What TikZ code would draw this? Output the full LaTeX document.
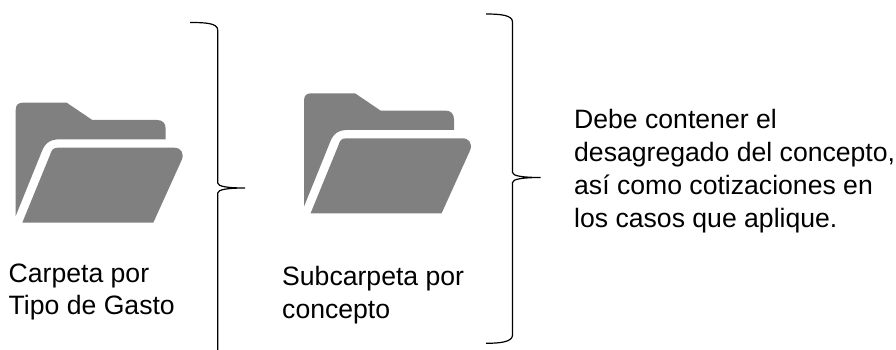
\documentclass[tikz,border=0pt]{standalone}
\usepackage{fontspec}
\setmainfont{Liberation Sans}
\tikzset{
  lbl/.style={anchor=west,align=left,font=\fontsize{26.6}{32.8}\selectfont,inner sep=0pt,text=black},
  brace/.style={draw=black,line width=1.2pt},
  folderpart/.style={fill=black!50,draw=none}
}
\newcommand{\folderpic}[3]{%
\begin{scope}[shift={(#1,#2)}]
\node[inner sep=0pt,minimum size=0pt] (#3) at (99,162) {};
\fill[folderpart] (15.7,110) .. controls (15.7,105) and (18,102.7) .. (23,102.7) -- (66.7,102.7) -- (92.3,120) -- (157,120) .. controls (162.5,120) and (165.7,123) .. (165.7,129) -- (165.7,139.3) -- (60,139.3) .. controls (50,139.3) and (45,143) .. (41.7,151.7) -- (15.7,216) -- cycle;
\fill[folderpart] (50,155) .. controls (51.5,150) and (53,147.7) .. (58,147.7) -- (174,147.7) .. controls (181,147.7) and (184.5,153) .. (181.7,160) -- (153.3,222.7) -- (22.3,222.7) -- cycle;
\end{scope}}
\begin{document}
\begin{tikzpicture}[x=1pt,y=-1pt]
\useasboundingbox (0,0) rectangle (896,350);
\folderpic{0}{0}{folderA}
\folderpic{288.3}{-9.4}{folderB}
\coordinate (a1) at (190,22.5);
\coordinate (a2) at (245,188);
\coordinate (a3) at (217.7,350);
\draw[brace] (a1) .. controls (205,22.5) and (217.7,23) .. (217.7,30) -- (217.7,183) .. controls (217.7,186.5) and (228,188) .. (a2) .. controls (228,188) and (217.7,189.5) .. (217.7,193) -- (a3);
\coordinate (b1) at (486,14);
\coordinate (b2) at (540.7,177.5);
\coordinate (b3) at (486,343.3);
\draw[brace] (b1) .. controls (500,14) and (512.5,15) .. (512.5,22) -- (512.5,172.5) .. controls (512.5,176) and (523,177.5) .. (b2) .. controls (523,177.5) and (512.5,179) .. (512.5,182.5) -- (512.5,335) .. controls (512.5,342) and (500,343.3) .. (b3);
\node[lbl] (t1) at (8.5,292) {Carpeta por\\Tipo de Gasto};
\node[lbl] (t2) at (282,295) {Subcarpeta por\\concepto};
\node[lbl] (t3) at (574,171) {Debe contener el\\desagregado del concepto,\\así como cotizaciones en\\los casos que aplique.};
\end{tikzpicture}
\end{document}
